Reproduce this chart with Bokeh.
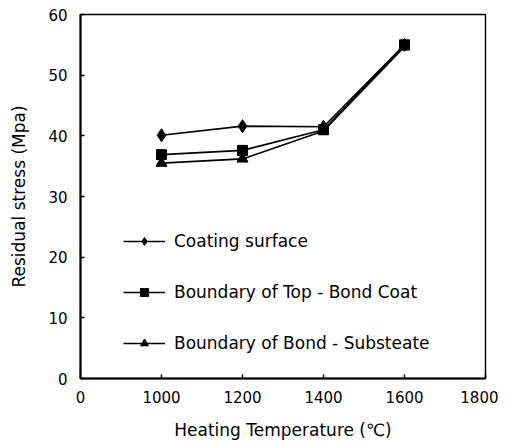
from bokeh.plotting import figure
from bokeh.models import Range1d, FixedTicker, Legend, LegendItem
from bokeh.embed import file_html
from bokeh.resources import INLINE

# ---- data ----
tick_labels = ["0", "1000", "1200", "1400", "1600", "1800"]
temperatures = ["1000", "1200", "1400", "1600"]
coating_surface = [40.1, 41.6, 41.5, 55.0]
top_bond_coat = [36.9, 37.6, 41.0, 55.0]
bond_substrate = [35.5, 36.2, 40.8, 54.7]
y_ticks = [0, 10, 20, 30, 40, 50, 60]

FONT = "DejaVu Sans"

x_pos = [tick_labels.index(t) for t in temperatures]

p = figure(width=498, height=442, output_backend="svg", toolbar_location=None,
           x_range=Range1d(0, len(tick_labels) - 1), y_range=Range1d(0, 60),
           min_border_left=80, min_border_right=13, min_border_top=14, min_border_bottom=62)

p.xgrid.visible = False
p.ygrid.visible = False
p.outline_line_color = "black"
p.outline_line_width = 1.5
p.background_fill_color = "white"
p.border_fill_color = "white"

p.xaxis.ticker = FixedTicker(ticks=list(range(len(tick_labels))))
p.xaxis.major_label_overrides = {i: lab for i, lab in enumerate(tick_labels)}
p.yaxis.ticker = FixedTicker(ticks=y_ticks)

for ax in (p.xaxis[0], p.yaxis[0]):
    ax.axis_line_color = "black"
    ax.axis_line_width = 2
    ax.major_tick_in = 4
    ax.major_tick_out = 0
    ax.major_tick_line_color = "black"
    ax.major_tick_line_width = 1.5
    ax.minor_tick_line_color = None
    ax.major_label_text_font = FONT
    ax.major_label_text_font_size = "15px"
    ax.major_label_text_color = "black"
    ax.axis_label_text_font = FONT
    ax.axis_label_text_font_size = "17px"
    ax.axis_label_text_font_style = "normal"
    ax.axis_label_text_color = "black"

p.xaxis.axis_label = "Heating Temperature (\u2103)"
p.yaxis.axis_label = "Residual stress (Mpa)"
p.xaxis.major_label_standoff = 12
p.xaxis.axis_label_standoff = 14
p.yaxis.major_label_standoff = 13
p.yaxis.axis_label_standoff = 16

series = [
    ("Coating surface", coating_surface, "diamond", 13),
    ("Boundary of Top - Bond Coat", top_bond_coat, "square", 10),
    ("Boundary of Bond - Substeate", bond_substrate, "triangle", 11),
]

items = []
for name, vals, marker, size in series:
    ln = p.line(x_pos, vals, line_color="black", line_width=1.6)
    mk = p.scatter(x_pos, vals, marker=marker, size=size, fill_color="black", line_color="black")
    items.append(LegendItem(label=name, renderers=[ln, mk]))

legend = Legend(items=items, location=(43, 25), padding=0, margin=0,
                glyph_width=42, glyph_height=20, label_height=20, spacing=31,
                label_standoff=9, border_line_color=None, background_fill_alpha=0,
                label_text_font=FONT, label_text_font_size="17px", label_text_color="black")
p.add_layout(legend, "center")

open("out.html", "w").write(file_html(p, INLINE))
